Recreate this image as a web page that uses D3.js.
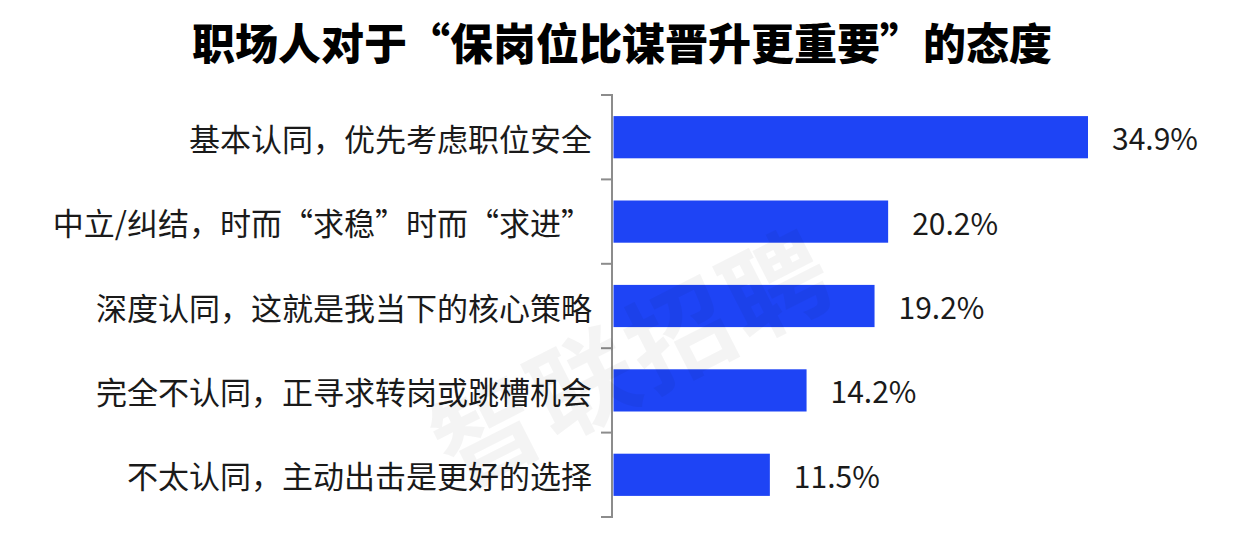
<!DOCTYPE html>
<html>
<head>
<meta charset="utf-8">
<script src="https://cdn.jsdelivr.net/npm/d3@7"></script>
<style>
  html, body { margin: 0; padding: 0; background: #fff; }
  svg { display: block; }
  text { font-family: "Noto Sans CJK SC", "Noto Sans", sans-serif; }
</style>
</head>
<body>
<svg id="chart" width="1256" height="538"></svg>
<script>
const titleText = "职场人对于“保岗位比谋晋升更重要”的态度";
const categories = [
  "基本认同，优先考虑职位安全",
  "中立/纠结，时而“求稳”时而“求进”",
  "深度认同，这就是我当下的核心策略",
  "完全不认同，正寻求转岗或跳槽机会",
  "不太认同，主动出击是更好的选择"
];
const values = [34.9, 20.2, 19.2, 14.2, 11.5];
const watermark = "智联招聘";

const svg = d3.select("#chart");
const axisX = 612;

const x = d3.scaleLinear().domain([0, 34.9]).range([axisX + 1.5, 1088]);
const y = d3.scaleBand().domain(categories).range([95, 517]).paddingInner(0.5).paddingOuter(0.25);

// title
svg.append("text")
  .attr("x", 622).attr("y", 41)
  .attr("text-anchor", "middle").attr("dominant-baseline", "central")
  .attr("font-size", 43).attr("font-weight", 900).attr("fill", "#000")
  .text(titleText);

// bars
svg.selectAll("rect.bar").data(values).enter().append("rect")
  .attr("class", "bar")
  .attr("x", x(0))
  .attr("y", (d, i) => y(categories[i]))
  .attr("width", d => x(d) - x(0))
  .attr("height", y.bandwidth())
  .attr("fill", "#1e44f5");

// value labels
svg.selectAll("text.val").data(values).enter().append("text")
  .attr("class", "val")
  .attr("x", d => x(d) + 24)
  .attr("y", (d, i) => y(categories[i]) + y.bandwidth() / 2)
  .attr("dominant-baseline", "central")
  .attr("font-size", 30).attr("fill", "#1a1a1a")
  .text(d => d.toFixed(1) + "%");

// category labels
svg.selectAll("text.cat").data(categories).enter().append("text")
  .attr("class", "cat")
  .attr("x", 592)
  .attr("y", d => y(d) + y.bandwidth() / 2)
  .attr("text-anchor", "end").attr("dominant-baseline", "central")
  .attr("font-size", 31).attr("fill", "#1a1a1a")
  .text(d => d);

// axis line with boundary ticks
const step = y.step();
const bounds = d3.range(categories.length + 1).map(i => y(categories[0]) - step * 0.25 + i * step);
const axisG = svg.append("g").attr("stroke", "#8c8c8c").attr("stroke-width", 2).attr("fill", "none");
axisG.append("line").attr("x1", axisX).attr("x2", axisX).attr("y1", bounds[0]).attr("y2", bounds[bounds.length - 1]);
axisG.selectAll("line.tk").data(bounds).enter().append("line")
  .attr("class", "tk")
  .attr("x1", axisX - 11).attr("x2", axisX + 1)
  .attr("y1", d => d).attr("y2", d => d);

// watermark
svg.append("text")
  .attr("transform", "translate(630,352) rotate(-27)")
  .attr("text-anchor", "middle").attr("dominant-baseline", "central")
  .attr("font-size", 104).attr("font-weight", 700)
  .attr("fill", "#000").attr("fill-opacity", 0.045)
  .attr("letter-spacing", 4)
  .text(watermark);
</script>
</body>
</html>
